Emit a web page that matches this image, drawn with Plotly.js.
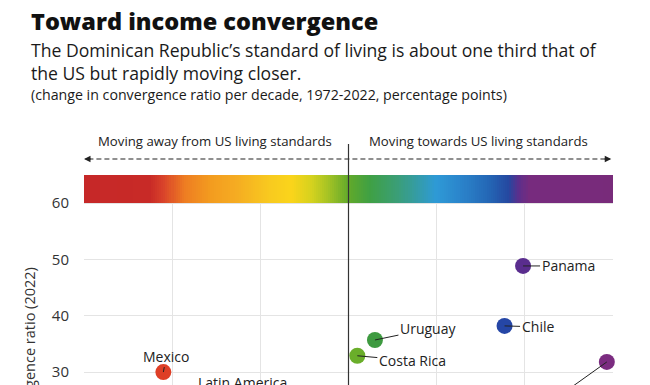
<!DOCTYPE html>
<html>
<head>
<meta charset="utf-8">
<script src="https://cdn.plot.ly/plotly-3.0.1.min.js"></script>
<style>
html, body { margin: 0; padding: 0; overflow: hidden; background: #fff; }
#chart { width: 650px; height: 601px; }
</style>
</head>
<body>
<div id="chart"></div>
<script>
// ---- data ----
var countries = ['Mexico', 'Latin America', 'Costa Rica', 'Uruguay', 'Chile', 'Panama', 'Dominican Republic'];
var changePerDecade = [-2.1, -0.9, 0.1, 0.3, 1.77, 1.98, 2.93];
var convergenceRatio = [30.0, 25.0, 32.9, 35.7, 38.2, 48.85, 31.8];
var pointColors = ['#DE3F26', '#F0A02A', '#6AAE2A', '#3E9A40', '#2546A6', '#5A2D8E', '#7B2C80'];
var labelOffsetX = [3, -27, 55, 53, 33, 45, -70];
var labelOffsetY = [-16, -18, 5, -11, 1, 0, 50];
var yTicks = [30, 40, 50, 60];
var xTicks = [-3, -2, -1, 0, 1, 2, 3];
var bandStops = [0, 0.125, 0.151, 0.19, 0.24, 0.283, 0.354, 0.392, 0.43, 0.46, 0.503,
                 0.54, 0.596, 0.665, 0.709, 0.766, 0.803, 0.822, 0.841, 1];
var bandColors = ['#C62828', '#C82A27', '#D9432A', '#EE7D22', '#F39C1F', '#F5AA22', '#F8CB1F',
                  '#FAD41B', '#D5D21E', '#A8C424', '#5EA82C', '#3FA044', '#3A9E7A', '#2E9AD6',
                  '#2B86CC', '#2466B5', '#2548A0', '#5B2F8C', '#772B7E', '#782B7A'];

var FONT = '"Open Sans", Lato, sans-serif';

// gradient band (60 to 65)
var nCols = 260;
var bandX = [], bandZ = [];
for (var i = 0; i <= nCols; i++) bandX.push(-3 + 6 * i / nCols);
for (var j = 0; j < nCols; j++) bandZ.push((j + 0.5) / nCols);
var colorscale = bandStops.map(function (s, k) { return [s, bandColors[k]]; });

var band = {
  type: 'heatmap', x: bandX, y: [60, 65], z: [bandZ],
  colorscale: colorscale, zmin: 0, zmax: 1, showscale: false, hoverinfo: 'skip'
};

var pts = {
  type: 'scatter', mode: 'markers',
  x: changePerDecade, y: convergenceRatio, text: countries,
  marker: { size: 16, color: pointColors, line: { width: 0 } },
  cliponaxis: false, hoverinfo: 'text'
};

var annotations = [];
countries.forEach(function (c, k) {
  annotations.push({
    x: changePerDecade[k], y: convergenceRatio[k], xref: 'x', yref: 'y',
    text: c, showarrow: true, arrowhead: 0, arrowwidth: 1, arrowcolor: '#222',
    ax: labelOffsetX[k], ay: labelOffsetY[k], standoff: 0,
    font: { family: FONT, size: 14, color: '#222' }
  });
});

function py(pix) { return (541 - pix) / 366; }
function px(pix) { return (pix - 84) / 529; }

annotations.push(
  { xref: 'paper', yref: 'paper', x: px(29), y: py(21), xanchor: 'left', yanchor: 'middle',
    text: 'Toward income convergence', showarrow: false,
    font: { family: FONT, size: 23.5, color: '#111', weight: 800 } },
  { xref: 'paper', yref: 'paper', x: px(29), y: py(61.5), xanchor: 'left', yanchor: 'middle', align: 'left',
    text: 'The Dominican Republic\u2019s standard of living is about one third that of<br>the US but rapidly moving closer.',
    showarrow: false,
    font: { family: FONT, size: 17.6, color: '#1a1a1a' } },
  { xref: 'paper', yref: 'paper', x: px(29), y: py(94), xanchor: 'left', yanchor: 'middle',
    text: '(change in convergence ratio per decade, 1972-2022, percentage points)', showarrow: false,
    font: { family: FONT, size: 14.2, color: '#1a1a1a' } },
  { xref: 'paper', yref: 'paper', x: px(215), y: py(141), xanchor: 'center', yanchor: 'middle',
    text: 'Moving away from US living standards', showarrow: false,
    font: { family: FONT, size: 13.2, color: '#222' } },
  { xref: 'paper', yref: 'paper', x: px(478), y: py(141), xanchor: 'center', yanchor: 'middle',
    text: 'Moving towards US living standards', showarrow: false,
    font: { family: FONT, size: 13.2, color: '#222' } },
  { xref: 'paper', yref: 'paper', x: px(29), y: py(352), xanchor: 'center', yanchor: 'middle',
    text: 'Convergence ratio (2022)', showarrow: false, textangle: -90,
    font: { family: FONT, size: 14.5, color: '#333' } },
  { xref: 'x', yref: 'paper', x: -3, y: py(159), ax: 8, ay: 0, text: '', showarrow: true,
    arrowhead: 2, arrowsize: 1, arrowwidth: 1.3, arrowcolor: '#222', standoff: 0 },
  { xref: 'x', yref: 'paper', x: 2.98, y: py(159), ax: -8, ay: 0, text: '', showarrow: true,
    arrowhead: 2, arrowsize: 1, arrowwidth: 1.3, arrowcolor: '#222', standoff: 0 }
);

var layout = {
  width: 650, height: 601,
  margin: { l: 84, r: 37, t: 175, b: 60 },
  paper_bgcolor: '#fff', plot_bgcolor: '#fff',
  showlegend: false,
  font: { family: FONT, color: '#222' },
  xaxis: {
    range: [-3, 3], tickvals: xTicks, showgrid: true, gridcolor: '#E4E4E4', gridwidth: 1,
    zeroline: false, showline: false, ticks: '', showticklabels: false
  },
  yaxis: {
    range: [0, 65], tickvals: yTicks, showgrid: true, gridcolor: '#E4E4E4', gridwidth: 1,
    zeroline: false, showline: false, ticks: '', ticklabelstandoff: 14,
    tickfont: { size: 15, color: '#333' }
  },
  shapes: [
    { type: 'line', xref: 'x', yref: 'paper', x0: -2.95, x1: 2.95, y0: py(159), y1: py(159),
      line: { color: '#222', width: 1.2, dash: '5px,3px' } },
    { type: 'line', xref: 'x', yref: 'paper', x0: 0, x1: 0, y0: 0, y1: py(144),
      line: { color: '#333', width: 1.2 }, layer: 'above' }
  ],
  annotations: annotations
};

Plotly.newPlot('chart', [band, pts], layout, { displayModeBar: false, staticPlot: true });
</script>
</body>
</html>
